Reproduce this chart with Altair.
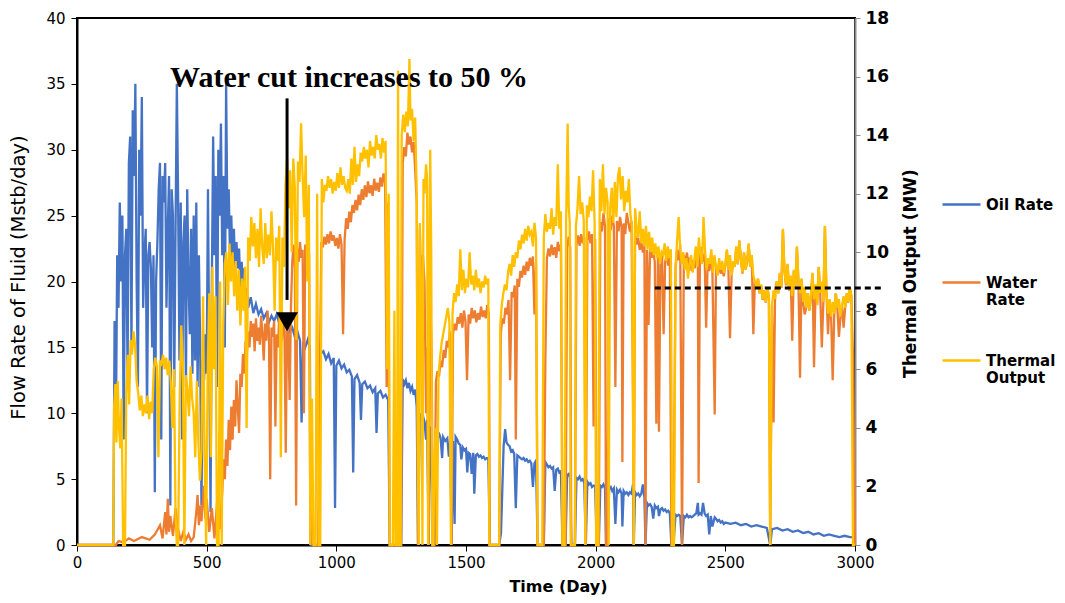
import altair as alt
import pandas as pd

# ---------------- data ----------------
OIL = [(0,0),(140,0),(145,17),(150,9),(155,22),(160,18),(165,26),(170,20),(175,25),(180,8),(185,22),(190,24),(195,13),(200,29),(205,31),(210,15),(215,33),(220,28),(225,35),(230,20),(235,12),(240,30),(245,25),(250,34),(255,18),(260,22),(265,24),(270,10),(275,22),(280,23),(285,21),(290,15),(295,22),(300,4),(305,20),(310,23),(315,27),(320,29),(325,8),(330,28),(335,26),(340,29),(345,18),(350,24),(355,28),(360,3),(365,27),(370,25),(375,12),(380,24),(385,35),(390,26),(395,14),(400,26),(405,8),(410,23),(415,25),(420,12),(425,27),(430,20),(435,16),(440,24),(445,13),(450,25),(455,14),(460,26),(465,12),(470,22),(475,15),(480,3),(485,14),(490,12.5),(495,16),(500,13),(505,27),(510,14),(515,2.5),(520,20),(525,31),(530,22),(535,28),(540,12),(545,30),(550,25),(555,32),(560,22),(565,28),(570,15),(575,35),(580,24),(585,27),(590,22),(595,25),(600,21),(605,24),(610,20.5),(615,23),(620,21),(625,22.5),(630,19.5),(635,21.5),(640,20),(645,21),(650,18.5),(655,19.5),(660,18),(670,18.8),(680,17.6),(690,18.3),(700,17.5),(710,17.9),(720,17.2),(730,17.6),(740,16.9),(750,17.4),(760,17),(770,17.5),(780,16.8),(790,17.2),(800,16.6),(810,16.9),(820,16.2),(830,16.5),(840,15.8),(850,16.2),(860,15.5),(866,9.3),(872,15.4),(880,15),(890,15.6),(898,14.9),(902,0),(932,0),(938,14.5),(950,14.7),(960,14.1),(970,14.5),(980,13.8),(990,14.2),(995,2.8),(1000,13.6),(1010,14),(1020,13.4),(1030,13.7),(1040,13.1),(1050,13.3),(1060,12.8),(1065,5.5),(1070,12.6),(1080,12.9),(1090,12.3),(1095,9.5),(1100,12.2),(1110,12.4),(1120,11.9),(1130,12.1),(1140,11.6),(1150,11.9),(1155,8.5),(1160,11.5),(1170,11.7),(1180,11.2),(1190,11.4),(1200,11),(1206,0),(1250,0),(1256,12.6),(1262,12.2),(1268,12.5),(1274,11.9),(1280,12.3),(1286,11.7),(1292,12),(1298,11.4),(1304,11.8),(1310,10.5),(1315,0),(1322,10),(1328,9.6),(1334,9.8),(1340,9.3),(1346,8),(1350,9.5),(1356,0),(1362,9),(1368,6),(1372,0),(1378,0),(1385,8.6),(1390,8.2),(1397,8.4),(1402,8.1),(1408,6.6),(1412,8.2),(1420,7.9),(1428,8.1),(1434,6.7),(1440,8.0),(1444,0),(1450,7.9),(1456,1.6),(1460,8.2),(1466,8.0),(1472,7.7),(1478,7.6),(1482,6.5),(1488,7.4),(1494,7.2),(1500,7.3),(1505,5.5),(1510,7.0),(1516,6.9),(1522,5.4),(1528,7.0),(1532,3.9),(1538,6.8),(1544,6.9),(1550,6.7),(1556,6.8),(1562,6.6),(1568,6.7),(1574,6.5),(1580,6.6),(1586,6.6),(1592,0),(1628,0),(1635,0.9),(1645,7.5),(1651,8.8),(1656,7.8),(1662,7.6),(1668,7.5),(1674,7.1),(1680,7.2),(1686,6.9),(1692,2.8),(1698,6.8),(1704,6.7),(1710,6.6),(1716,6.5),(1722,6.6),(1728,6.4),(1734,6.5),(1740,6.3),(1746,6.4),(1752,6.2),(1758,4.4),(1764,6.2),(1770,6.4),(1776,0),(1800,0),(1806,6.3),(1812,6.1),(1818,5.9),(1824,6.0),(1830,5.8),(1836,5.9),(1842,4.1),(1848,5.7),(1854,5.8),(1860,5.5),(1866,5.6),(1872,0),(1884,0),(1890,5.3),(1896,5.4),(1902,5.1),(1906,0),(1920,0),(1926,5.1),(1932,5.0),(1938,5.2),(1944,4.9),(1950,5.0),(1956,4.7),(1962,0),(1968,4.8),(1974,4.6),(1980,4.7),(1986,4.4),(1992,4.5),(1998,4.5),(2004,0),(2012,0),(2018,4.5),(2024,4.4),(2030,4.6),(2036,4.3),(2040,0),(2046,0),(2052,4.3),(2058,4.4),(2064,4.1),(2070,4.3),(2076,1.6),(2082,4.2),(2088,4.0),(2094,4.2),(2100,3.9),(2103,1.4),(2108,4.1),(2114,3.9),(2120,4.0),(2126,3.8),(2132,4.0),(2138,3.9),(2144,4.6),(2147,0),(2152,4.0),(2158,3.8),(2164,3.9),(2170,3.7),(2176,3.9),(2182,4.6),(2188,3.6),(2192,0),(2198,3.2),(2204,3.0),(2210,3.1),(2216,2.9),(2222,2.0),(2228,3.0),(2234,2.8),(2240,2.9),(2244,2.2),(2250,2.7),(2256,2.8),(2262,2.6),(2268,2.7),(2274,2.5),(2280,2.6),(2286,2.4),(2292,0),(2300,0),(2308,2.3),(2314,2.2),(2320,2.3),(2326,2.2),(2333,0),(2340,2.2),(2346,2.1),(2352,2.3),(2358,2.1),(2364,2.2),(2370,2.1),(2376,2.2),(2382,2.3),(2388,2.4),(2394,3.2),(2397,2.3),(2402,2.4),(2408,2.3),(2414,3.2),(2420,2.4),(2426,2.2),(2432,2.3),(2438,0.8),(2444,2.2),(2450,1.4),(2459,2.1),(2464,2.0),(2470,1.8),(2476,1.9),(2482,1.7),(2488,1.8),(2494,1.6),(2500,1.7),(2520,1.6),(2540,1.7),(2560,1.5),(2580,1.6),(2600,1.4),(2620,1.5),(2640,1.4),(2660,1.3),(2673,0),(2680,1.2),(2700,1.3),(2720,1.1),(2740,1.2),(2760,1.0),(2780,1.1),(2800,0.9),(2820,1.0),(2840,0.8),(2860,0.9),(2880,0.7),(2900,0.8),(2920,0.7),(2940,0.6),(2960,0.7),(2980,0.6),(2992,0.6),(3000,0)]

WATER = [(0,0),(150,0),(160,0.3),(180,0.2),(200,0.5),(220,0.3),(250,0.6),(280,0.4),(300,0.8),(320,1.5),(330,0.5),(340,2.5),(345,0.8),(350,3.5),(355,1),(360,2.2),(370,0.7),(380,2.8),(390,1.2),(400,0.3),(410,1.0),(420,0.4),(430,0.8),(440,0.3),(450,0.6),(460,2.5),(465,3.8),(470,1.5),(475,3),(480,1.8),(490,4.5),(495,2),(500,3.5),(510,1),(520,2.8),(530,0.5),(540,3.2),(550,1.2),(560,4),(565,6.5),(570,5),(575,8),(580,6),(585,9.5),(590,7.2),(595,10.5),(600,8),(605,11),(610,9),(615,12.5),(620,10.5),(625,8.5),(630,13),(635,12),(640,14.5),(645,13),(650,15.5),(655,14.5),(660,16.2),(665,15),(670,17),(675,15.8),(680,16.8),(685,14.7),(690,17.2),(695,15.5),(700,16.5),(705,15.2),(710,17.4),(715,16),(720,14),(725,16.8),(730,15.5),(735,17.8),(740,16.2),(745,5),(750,16.5),(755,15.8),(760,17),(765,9),(770,16),(775,15),(780,17.5),(785,16.3),(790,15.5),(795,17.6),(800,16.2),(805,7),(810,16.8),(815,15.8),(820,11),(825,18),(830,21.5),(835,22.8),(840,21),(845,3),(850,22.5),(855,21.5),(860,23),(865,21.8),(870,22.4),(875,10),(880,22.8),(885,21.6),(890,23),(895,22),(900,0),(906,5),(912,0),(920,0),(930,0),(936,12),(942,23),(948,22.6),(954,23.4),(960,22.8),(966,23.6),(972,22.9),(978,23.8),(984,23.1),(990,23.5),(996,22.7),(1002,23.3),(1008,22.5),(1014,23.6),(1020,22.8),(1026,16),(1032,23.2),(1038,24.8),(1044,24),(1050,25.3),(1056,24.5),(1062,25.8),(1068,25.2),(1074,26.2),(1080,25.4),(1086,26.6),(1092,25.8),(1098,27),(1104,26.2),(1110,27.3),(1116,26.4),(1122,27.6),(1128,26.7),(1134,27.3),(1140,26.5),(1146,27.8),(1152,26.9),(1158,27.5),(1164,26.8),(1170,27.9),(1176,27.2),(1182,28.2),(1188,27.5),(1194,12),(1200,26),(1206,0),(1250,0),(1256,29),(1262,30.2),(1268,29.5),(1274,31.3),(1280,30.4),(1286,31),(1292,29.8),(1298,30.6),(1304,28.5),(1310,26),(1315,0),(1322,24),(1328,18),(1334,22),(1340,20),(1346,10),(1350,15),(1356,0),(1362,19),(1368,14),(1372,0),(1378,0),(1384,12.4),(1390,13.2),(1396,12.8),(1402,14),(1408,13.5),(1414,14.8),(1420,14.2),(1426,15.5),(1432,15),(1438,16.2),(1444,0),(1450,16),(1456,16.8),(1462,16.3),(1468,17.3),(1474,16.8),(1480,17.6),(1486,16.5),(1492,17.8),(1498,17),(1504,12.5),(1510,17.5),(1516,16.8),(1522,18),(1528,17.2),(1534,17.8),(1540,16.9),(1546,17.6),(1552,17.1),(1558,18.1),(1564,17.3),(1570,17.8),(1576,17.2),(1582,18.2),(1588,17.5),(1592,0),(1628,0),(1634,16),(1640,17.2),(1646,16.8),(1652,18),(1658,17.5),(1664,18.6),(1670,12.5),(1676,19.2),(1682,18.8),(1688,19.7),(1692,8),(1698,20.2),(1704,19.6),(1710,20.8),(1716,20.3),(1722,21.2),(1728,20.5),(1734,21.5),(1740,20.8),(1746,21.8),(1752,21.2),(1758,21.9),(1764,17.5),(1770,21.5),(1776,0),(1800,0),(1806,14),(1812,21.8),(1818,22.5),(1824,21.9),(1830,22.8),(1836,22.0),(1842,22.6),(1848,21.8),(1854,23),(1860,22.3),(1866,22.8),(1872,0),(1884,0),(1890,22.5),(1896,23.4),(1902,22.6),(1906,0),(1920,0),(1926,22.8),(1932,23.5),(1938,22.7),(1944,23.6),(1950,22.9),(1956,23.4),(1962,0),(1968,23.1),(1974,23.8),(1980,22.9),(1986,23.6),(1992,9),(1998,23.2),(2004,0),(2012,0),(2018,24.5),(2024,23.8),(2030,25.2),(2036,24.2),(2040,0),(2046,0),(2052,24.8),(2058,23.9),(2064,25),(2070,24.2),(2076,12),(2082,24.6),(2088,23.8),(2094,24.9),(2100,24.1),(2103,6.3),(2108,24.4),(2114,23.6),(2120,25.2),(2126,24.5),(2132,23.8),(2138,24.6),(2144,11.5),(2147,0),(2152,23.6),(2158,22.8),(2164,23.3),(2170,22.4),(2176,23),(2182,22.2),(2188,22.9),(2192,0),(2198,22.4),(2204,16.7),(2210,22.5),(2216,21.8),(2222,22.3),(2228,21.5),(2234,9.2),(2240,22),(2244,8.6),(2250,21.6),(2256,22.1),(2262,16),(2268,21.5),(2274,22),(2280,21.2),(2286,21.8),(2292,0),(2300,0),(2308,21),(2314,22.4),(2320,21.6),(2326,22.8),(2333,0),(2340,22),(2346,21.4),(2352,22.2),(2358,21.2),(2364,21.8),(2370,20.8),(2376,21.6),(2382,21),(2388,22.2),(2394,21.4),(2397,4.7),(2402,21.9),(2408,22.6),(2414,21.5),(2420,22.1),(2426,16.5),(2432,21.6),(2438,20.8),(2444,21.5),(2450,20.9),(2459,9.9),(2464,21.2),(2470,20.5),(2476,21.4),(2482,20.6),(2488,21.0),(2494,20.4),(2500,21.2),(2506,22.3),(2512,20.8),(2518,15.7),(2524,20.4),(2530,21.5),(2536,21.1),(2542,22.6),(2548,21.3),(2554,23.1),(2560,21.7),(2566,20.6),(2572,22.2),(2578,20.9),(2584,21.5),(2590,22.8),(2596,21.1),(2602,21.9),(2608,16),(2614,20),(2620,19.5),(2626,20.2),(2632,19.1),(2638,19.7),(2644,18.6),(2650,19.3),(2656,18.4),(2662,19.5),(2668,18.8),(2673,0),(2680,18.2),(2686,9.3),(2692,19.3),(2698,20),(2704,19.1),(2710,20.6),(2716,19.5),(2722,23.9),(2728,20.8),(2734,19.7),(2740,21.3),(2746,19.3),(2752,20.4),(2758,15.5),(2764,20.8),(2770,19.5),(2776,22.6),(2782,20.0),(2788,12.7),(2794,20.2),(2800,18.4),(2806,17.5),(2812,18),(2818,19.1),(2824,17.8),(2830,18.9),(2836,20.6),(2842,13.5),(2848,19.7),(2854,18.2),(2860,21.1),(2866,19.1),(2872,15),(2878,18.4),(2884,24.2),(2890,19.1),(2896,16),(2902,18.6),(2908,17.3),(2914,12.5),(2920,17.5),(2926,19.1),(2932,18),(2938,15.8),(2944,17.3),(2950,18.2),(2956,16.5),(2962,18),(2968,19.1),(2974,18.4),(2980,19.5),(2986,18.9),(2992,14.5),(3000,0)]

THERMAL = [(0,0),(140,0),(143,4.7),(148,5.5),(152,3.5),(157,5.6),(162,4),(167,3.3),(172,5),(178,0),(185,0),(190,5.2),(196,6.5),(201,4.8),(207,7),(212,6.5),(218,7.3),(224,6.8),(230,5.6),(236,5.2),(242,4.6),(248,5.1),(254,4.4),(260,4.8),(266,4.5),(272,5.1),(278,4.3),(284,4.9),(290,4.5),(296,6),(302,6.4),(308,6.1),(314,3.0),(320,6.3),(326,6.2),(332,6.5),(338,6.0),(344,6.4),(350,5.8),(356,6.3),(362,5.5),(368,4),(374,6),(380,1),(385,0),(390,0),(396,5),(402,7.5),(408,6.2),(414,0),(420,5.8),(426,5.3),(432,4.4),(438,6.1),(444,5),(450,4.5),(456,3),(462,5.6),(468,3.5),(474,2.2),(480,3.3),(486,8.5),(492,3),(498,0),(504,6),(510,8.6),(516,3),(522,9.5),(528,6),(534,8.5),(540,0),(546,0),(552,9),(558,0),(564,7.5),(570,9.6),(576,10),(582,8.2),(588,10.3),(594,9),(600,10),(606,8.5),(612,9.7),(618,8),(624,9.4),(630,7.5),(636,9.1),(642,8),(648,9.5),(654,4),(660,10.5),(666,9.7),(672,11.2),(678,10.2),(684,11.0),(690,9.8),(696,10.8),(702,9.5),(708,11.5),(714,10.2),(720,9.6),(726,11),(732,9.8),(738,10.6),(744,9.9),(750,11.4),(756,10.1),(762,8),(768,10.5),(774,9.7),(780,10.9),(786,3),(792,10.5),(798,9.5),(804,12.3),(810,13.2),(816,11.5),(822,12.8),(828,10),(834,13.2),(840,12.2),(846,7),(852,13.1),(858,12.4),(864,14.4),(870,12.6),(876,11.2),(882,13.3),(888,9),(894,12.3),(900,0),(906,5),(912,0),(920,0),(926,12),(932,0),(938,0),(944,12.5),(950,11.7),(956,12.3),(962,12.1),(968,12.6),(974,12.2),(980,12.5),(986,12.0),(992,12.4),(998,12.1),(1004,12.7),(1010,12.2),(1016,12.9),(1022,12.3),(1028,12.6),(1034,12.2),(1040,12.1),(1046,12.5),(1052,12),(1058,13.2),(1064,12.3),(1070,13.6),(1076,12.4),(1082,13),(1088,12.6),(1094,13.4),(1100,13.1),(1106,13.6),(1112,13.2),(1118,13.5),(1124,12.9),(1130,13.8),(1136,13.3),(1142,13.6),(1148,13.2),(1154,14.0),(1160,13.5),(1166,13.7),(1172,13.2),(1178,13.9),(1184,13.4),(1190,13.8),(1196,6),(1202,12),(1206,0),(1212,0),(1218,0),(1224,8),(1228,0),(1234,0),(1238,16.2),(1242,0),(1248,0),(1252,14),(1258,14.7),(1264,14.1),(1270,14.8),(1276,14.3),(1282,16.6),(1286,14.5),(1292,14.9),(1298,13.8),(1304,14.6),(1310,12),(1314,3),(1318,0),(1322,11),(1328,8),(1332,0),(1336,12.5),(1340,12),(1346,13),(1350,12.5),(1354,0),(1358,9),(1362,13.5),(1366,10),(1370,0),(1374,0),(1378,3),(1384,4),(1388,0),(1394,5.8),(1400,6.4),(1406,6.9),(1412,7.2),(1418,7.5),(1424,7.8),(1430,8.1),(1436,7.6),(1442,0),(1448,7.9),(1454,8.6),(1460,8.3),(1466,8.9),(1472,8.5),(1478,10.1),(1484,8.7),(1490,9.4),(1496,8.6),(1502,9.1),(1508,8.8),(1514,10.0),(1520,8.9),(1526,9.2),(1532,8.7),(1538,9.4),(1544,8.8),(1550,9.1),(1556,8.6),(1562,9.0),(1568,8.8),(1574,9.2),(1580,8.9),(1586,9.1),(1590,0),(1600,0),(1610,0),(1620,0),(1628,0),(1632,7.5),(1638,8.2),(1644,8.6),(1650,8.9),(1656,8.7),(1662,9.3),(1668,9.6),(1674,9.2),(1680,9.9),(1686,9.5),(1692,10.0),(1698,9.8),(1704,10.4),(1710,10.1),(1716,10.6),(1722,10.3),(1728,10.8),(1734,10.4),(1740,10.9),(1746,10.6),(1752,10.7),(1758,10.2),(1764,11.0),(1770,10.5),(1776,0),(1782,0),(1788,0),(1794,0),(1800,10.5),(1806,11.3),(1812,10.7),(1818,11.0),(1824,10.8),(1830,11.5),(1836,10.6),(1842,11.2),(1848,10.9),(1854,13),(1860,10.8),(1866,11.4),(1872,0),(1880,0),(1886,11),(1892,14.4),(1896,11.6),(1900,11),(1904,0),(1912,0),(1920,0),(1924,10.9),(1930,11.5),(1936,12.6),(1942,11.3),(1948,11.7),(1954,11.1),(1960,0),(1966,11.6),(1972,11.2),(1978,11.9),(1984,11.4),(1990,12.8),(1996,11.0),(2002,0),(2010,0),(2016,12.5),(2022,11.4),(2028,13),(2034,11.3),(2040,12.2),(2046,11.7),(2050,0),(2056,11.5),(2062,12.2),(2068,11),(2074,12.4),(2080,11.2),(2086,12.6),(2092,12.9),(2098,11.8),(2104,12.6),(2110,11.4),(2116,12.1),(2122,11.7),(2128,12.5),(2134,11.3),(2140,10.9),(2147,0),(2152,11.5),(2158,10.8),(2164,10.5),(2170,11.4),(2176,10.3),(2182,10.8),(2188,10.2),(2194,10.9),(2200,10.1),(2206,10.7),(2212,10.0),(2218,10.5),(2224,9.9),(2230,10.3),(2236,9.8),(2242,10.2),(2248,9.6),(2254,10.0),(2260,9.9),(2266,10.3),(2272,9.7),(2278,10.2),(2284,9.8),(2290,10.1),(2295,0),(2302,0),(2308,9.5),(2314,10.4),(2320,11.2),(2326,10.1),(2332,9.6),(2338,10.0),(2344,9.4),(2350,9.8),(2356,9.1),(2362,9.6),(2368,9.9),(2374,9.3),(2380,9.7),(2386,10.2),(2392,9.5),(2398,10.5),(2404,9.9),(2410,9.6),(2416,11.2),(2422,10.0),(2428,9.4),(2434,9.8),(2440,9.6),(2446,10.1),(2452,9.3),(2458,9.9),(2464,9.5),(2470,9.2),(2476,9.8),(2482,9.4),(2488,9.7),(2494,9.3),(2500,9.6),(2506,10.1),(2512,9.4),(2518,9.9),(2524,9.2),(2530,9.7),(2536,9.5),(2542,10.2),(2548,9.6),(2554,10.4),(2560,9.8),(2566,9.3),(2572,10.0),(2578,9.4),(2584,9.7),(2590,10.3),(2596,9.5),(2602,9.9),(2608,9.2),(2614,9.0),(2620,8.8),(2626,9.1),(2632,8.6),(2638,8.9),(2644,8.4),(2650,8.7),(2656,8.3),(2662,8.8),(2668,8.5),(2673,0),(2680,8.2),(2686,8.7),(2692,8.4),(2698,9.0),(2704,8.6),(2710,9.3),(2716,8.8),(2722,10.8),(2728,9.4),(2734,8.9),(2740,9.6),(2746,8.7),(2752,9.2),(2758,8.5),(2764,9.4),(2770,8.8),(2776,10.2),(2782,9.0),(2788,8.6),(2794,9.1),(2800,8.3),(2806,8.8),(2812,8.1),(2818,8.6),(2824,8.0),(2830,8.5),(2836,9.3),(2842,8.4),(2848,8.9),(2854,8.2),(2860,9.5),(2866,8.6),(2872,9.0),(2878,8.3),(2884,10.9),(2890,8.6),(2896,7.9),(2902,8.4),(2908,7.8),(2914,8.3),(2920,7.9),(2926,8.6),(2932,8.1),(2938,8.4),(2944,7.8),(2950,8.2),(2956,8.5),(2962,8.1),(2968,8.6),(2974,8.3),(2980,8.8),(2986,8.5),(2992,0),(3000,0)]

SERIES = ["Oil Rate", "Water Rate", "Thermal Output"]
COLORS = ["#4472C4", "#ED7D31", "#FFC000"]

# reference level (dashed) and annotation
DASH_DAYS = [2228, 3100]
DASH_MW = 8.78
NOTE_TEXT = "Water cut increases to 50 %"
NOTE_DAY, NOTE_Y = 359, 34.8
ARROW_DAY, ARROW_TOP, ARROW_BASE, ARROW_HEAD = 810, 33.9, 18.6, 16.95


def frame(rows, name):
    d = pd.DataFrame(rows, columns=["day", "value"])
    d["series"] = name
    return d


left_df = pd.concat([frame(OIL, "Oil Rate"), frame(WATER, "Water Rate")], ignore_index=True)
therm_df = frame(THERMAL, "Thermal Output")
dash_df = pd.DataFrame({"x": [DASH_DAYS[0]], "x2": [DASH_DAYS[1]], "y": [DASH_MW]})
note_df = pd.DataFrame({"x": [NOTE_DAY], "y": [NOTE_Y], "t": [NOTE_TEXT]})
arrow_df = pd.DataFrame({"x": [ARROW_DAY], "y": [ARROW_TOP], "y2": [ARROW_BASE], "yh": [ARROW_HEAD]})

XSCALE = alt.Scale(domain=[0, 3000], nice=False)
LSCALE = alt.Scale(domain=[0, 40], nice=False)
RSCALE = alt.Scale(domain=[0, 18], nice=False)
FONT = "DejaVu Sans"

x_enc = alt.X(
    "day:Q", scale=XSCALE,
    axis=alt.Axis(values=list(range(0, 3001, 500)), format="d", title="Time (Day)",
                  titleFontSize=16, titleFontWeight="bold", titleX=481, titleY=41,
                  titleAlign="center", titleBaseline="middle",
                  labelFontSize=15, tickSize=6, labelPadding=4, domainWidth=2, labelFlush=False,
                  tickColor="black", domainColor="black", labelColor="black",
                  titleColor="black", labelFont=FONT, titleFont=FONT, grid=False),
)

color_enc = alt.Color(
    "series:N",
    scale=alt.Scale(domain=SERIES, range=COLORS),
    legend=alt.Legend(
        title=None, orient="none", legendX=864, legendY=166,
        symbolType="stroke", symbolSize=1444, symbolStrokeWidth=2.5,
        labelFont=FONT, labelFontSize=15, labelFontWeight="bold", labelColor="black",
        labelOffset=4, rowPadding=32, labelLimit=200,
        labelExpr="datum.label == 'Oil Rate' ? ['Oil Rate', ' '] : split(datum.label, ' ')",
    ),
)

left_lines = alt.Chart(left_df).mark_line(strokeWidth=2.3).encode(
    x=x_enc,
    y=alt.Y("value:Q", scale=LSCALE,
            axis=alt.Axis(values=list(range(0, 41, 5)), title="Flow Rate of Fluid (Mstb/day)",
                          titleFontSize=19.5, titleFontWeight="normal",
                          titleX=-59, titleY=259, titleAngle=270, titleAlign="center",
                          titleBaseline="middle",
                          labelFontSize=15, tickSize=6, labelPadding=6, domainWidth=2,
                          labelFlush=False,
                          tickColor="black", domainColor="black", labelColor="black",
                          titleColor="black", labelFont=FONT, titleFont=FONT, grid=False)),
    color=color_enc,
)

therm_line = alt.Chart(therm_df).mark_line(strokeWidth=2.3).encode(
    x=alt.X("day:Q", scale=XSCALE),
    y=alt.Y("value:Q", scale=RSCALE,
            axis=alt.Axis(orient="right", values=list(range(0, 19, 2)), title="Thermal Output (MW)",
                          titleFontSize=17, titleFontWeight="bold", titleAngle=270,
                          titleX=55, titleY=255, titleAlign="center", titleBaseline="middle",
                          labelFontSize=17, labelFontWeight="bold", tickSize=5, labelPadding=5,
                          domainWidth=2, tickColor="#8c8c8c", domainColor="#8c8c8c",
                          labelFlush=False,
                          labelColor="black", titleColor="black", labelFont=FONT,
                          titleFont=FONT, grid=False)),
    color=color_enc,
)

dash = alt.Chart(dash_df).mark_rule(color="black", strokeWidth=3, strokeDash=[6, 4]).encode(
    x=alt.X("x:Q", scale=XSCALE),
    x2="x2:Q",
    y=alt.Y("y:Q", scale=RSCALE, axis=None),
)

note = alt.Chart(note_df).mark_text(
    font="Liberation Serif", fontSize=30, fontWeight="bold", align="left",
    baseline="alphabetic", color="black",
).encode(
    x=alt.X("x:Q", scale=XSCALE),
    y=alt.Y("y:Q", scale=LSCALE, axis=None),
    text="t:N",
)

shaft = alt.Chart(arrow_df).mark_rule(color="black", strokeWidth=3).encode(
    x=alt.X("x:Q", scale=XSCALE),
    y=alt.Y("y:Q", scale=LSCALE, axis=None),
    y2="y2:Q",
)

head = alt.Chart(arrow_df).mark_point(shape="triangle-down", filled=True, color="black",
                                      size=480, opacity=1).encode(
    x=alt.X("x:Q", scale=XSCALE),
    y=alt.Y("yh:Q", scale=LSCALE, axis=None),
)

chart = alt.layer(left_lines, therm_line, dash, note, shaft, head).resolve_scale(
    y="independent"
).properties(
    width=778, height=527,
    autosize=alt.AutoSizeParams(type="none"),
    padding={"left": 69, "top": 10, "right": 202, "bottom": 50},
).configure_view(
    stroke="black", strokeWidth=2
)

chart.save("out.html", embed_options={"renderer": "svg", "actions": False})
